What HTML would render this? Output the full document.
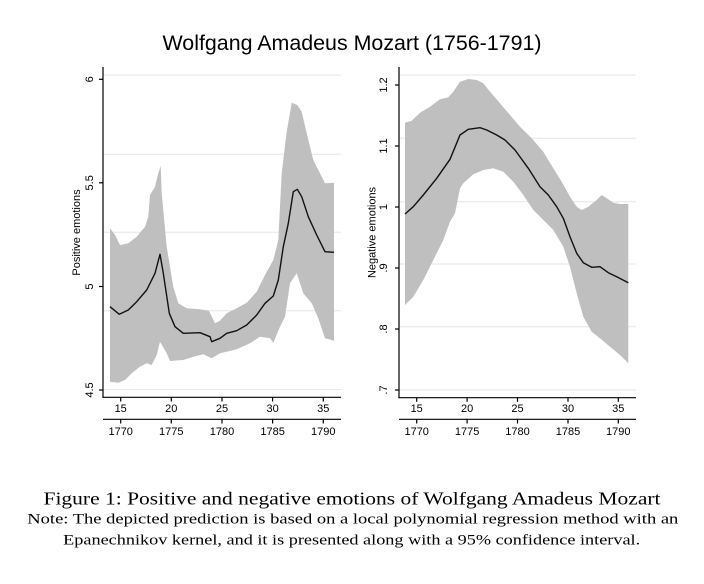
<!DOCTYPE html>
<html>
<head>
<meta charset="utf-8">
<style>
html,body{margin:0;padding:0;background:#fff;}
svg{display:block;}
text{font-family:"Liberation Sans",Arial,sans-serif;fill:#000;}
.serif{font-family:"Liberation Serif","Times New Roman",serif;}
</style>
</head>
<body>
<svg width="704" height="584" viewBox="0 0 704 584" xmlns="http://www.w3.org/2000/svg">
<rect width="704" height="584" fill="#fff"/>

<!-- Title -->
<text x="352" y="50" font-size="21" text-anchor="middle" textLength="379" lengthAdjust="spacingAndGlyphs">Wolfgang Amadeus Mozart (1756-1791)</text>

<!-- LEFT PANEL -->
<g stroke="#e6e6e6" stroke-width="1">
<line x1="103" y1="75" x2="341" y2="75"/>
<line x1="103" y1="154.3" x2="341" y2="154.3"/>
<line x1="103" y1="232.3" x2="341" y2="232.3"/>
<line x1="103" y1="310.7" x2="341" y2="310.7"/>
<line x1="103" y1="389.5" x2="341" y2="389.5"/>
</g>
<polygon fill="#bfbfbf" points="110,228.3 115,235 120,245 128.3,243.3 136.7,236.7 145,226.7 148.3,216.7 150,195 155,186.7 158.3,173.3 160.7,166 161.7,193.3 166.7,246.7 173.3,286.7 178.3,303.3 186.7,308.3 200,309.3 209,310.7 215,323.3 220,320.7 226.7,313.3 236.7,308.3 246.7,302.7 256.7,291.7 265,275 273.3,260 278.3,240 281.7,173.3 286.7,131.7 291.7,102.7 297.3,105 301.7,111.7 306.7,133.3 313.3,160 320,173.3 325,183.3 334,182.7 334,341 331.7,340 325,338.3 318.3,318.3 311.7,303.3 303.3,293.3 296.7,273.3 290,283.3 285,316.7 280,326.7 273.3,342.7 270,338.3 260,336.7 250,343.3 236.7,349.3 226.7,351.7 220,353.3 211.7,358.3 203.3,354.3 193.3,356.7 183.3,360 170,361 166.7,353.3 160,341.7 156.7,355 151.7,365 146.7,363.3 140,366.7 131.7,373.3 125,380 118.3,382.7 110,381.7"/>
<polyline fill="none" stroke="#111" stroke-width="1.4" stroke-linejoin="round" points="110,306.7 119.3,314.3 128.3,310 136.7,301.7 146.7,290 155,273.3 160,254.3 163.3,273.3 169.3,313.3 175,326.7 183.3,333.3 200,332.7 210,336.7 211.7,341.7 220,338.3 226.7,333.3 236.7,330.7 246.7,325 256.7,315 265,303.3 273.3,296 278.3,280 283.3,246.7 288.3,223.3 293.3,191.7 297.3,189.3 301.7,196.7 308.3,216.7 316.7,235 325,251.7 334,252.3"/>
<!-- axes -->
<g stroke="#000" stroke-width="1.2" fill="none">
<line x1="103" y1="67" x2="103" y2="397.5"/>
<line x1="102.4" y1="397.3" x2="341" y2="397.3"/>
<line x1="103" y1="419.3" x2="341" y2="419.3"/>
<line x1="99" y1="79.3" x2="103" y2="79.3"/>
<line x1="99" y1="182.8" x2="103" y2="182.8"/>
<line x1="99" y1="286.5" x2="103" y2="286.5"/>
<line x1="99" y1="390" x2="103" y2="390"/>
<line x1="120.7" y1="397.3" x2="120.7" y2="401.5"/>
<line x1="171.3" y1="397.3" x2="171.3" y2="401.5"/>
<line x1="222" y1="397.3" x2="222" y2="401.5"/>
<line x1="272.6" y1="397.3" x2="272.6" y2="401.5"/>
<line x1="323.3" y1="397.3" x2="323.3" y2="401.5"/>
<line x1="120.7" y1="419.3" x2="120.7" y2="423.5"/>
<line x1="171.3" y1="419.3" x2="171.3" y2="423.5"/>
<line x1="222" y1="419.3" x2="222" y2="423.5"/>
<line x1="272.6" y1="419.3" x2="272.6" y2="423.5"/>
<line x1="323.3" y1="419.3" x2="323.3" y2="423.5"/>
</g>
<g font-size="11" text-anchor="middle">
<text transform="translate(93,79.3) rotate(-90)">6</text>
<text transform="translate(93,182.8) rotate(-90)">5.5</text>
<text transform="translate(93,286.5) rotate(-90)">5</text>
<text transform="translate(93,390) rotate(-90)">4.5</text>
<text transform="translate(80,232.5) rotate(-90)">Positive emotions</text>
<text x="120.7" y="412">15</text>
<text x="171.3" y="412">20</text>
<text x="222" y="412">25</text>
<text x="272.6" y="412">30</text>
<text x="323.3" y="412">35</text>
<text x="120.7" y="435">1770</text>
<text x="171.3" y="435">1775</text>
<text x="222" y="435">1780</text>
<text x="272.6" y="435">1785</text>
<text x="323.3" y="435">1790</text>
</g>

<!-- RIGHT PANEL -->
<g stroke="#e6e6e6" stroke-width="1">
<line x1="399" y1="75" x2="636" y2="75"/>
<line x1="399" y1="138.3" x2="636" y2="138.3"/>
<line x1="399" y1="201.7" x2="636" y2="201.7"/>
<line x1="399" y1="264" x2="636" y2="264"/>
<line x1="399" y1="326.7" x2="636" y2="326.7"/>
<line x1="399" y1="390" x2="636" y2="390"/>
</g>
<polygon fill="#bfbfbf" points="405,122.7 411.7,120.7 420,112.7 430,106.7 440,99.3 448.3,97.3 453.3,91.7 460,81.7 468.3,79 476.7,80 483.3,83.3 490,91.7 500,103.3 510,115 520,126.7 531.7,138.3 543.3,151.7 553.3,168.3 561.7,181.7 570,196.7 576.7,206.7 581.7,210 588.3,206.7 596.7,200 601.7,195 606.7,198.3 613.3,202.7 620,204 628.3,204 628.3,363.3 620,355 610,346.7 600,338.3 591.7,331.7 583.3,316.7 576.7,293.3 570,266.7 563.3,246.7 553.3,230 543.3,220 533.3,210 523.3,195 513.3,181.7 503.3,171.7 493.3,168.3 483.3,170 473.3,174.3 463.3,183.3 460,188.3 455,213.3 450,221.7 443.3,240 433.3,260 423.3,280 413.3,296.7 405,305"/>
<polyline fill="none" stroke="#111" stroke-width="1.4" stroke-linejoin="round" points="405,214 413.3,206.7 423.3,195 436.7,178.3 450,159.3 460,135 468.3,129.3 480,127.7 486.7,130 496.7,135 505,140 515,150 528.3,168.3 540,186.7 548.3,195 556.7,206.7 563.3,218.3 570,236.7 576.7,253.3 583.3,262.7 591.7,267.3 600,266.7 608.3,272.7 616.7,276.7 628.3,282.7"/>
<g stroke="#000" stroke-width="1.2" fill="none">
<line x1="399" y1="67" x2="399" y2="398"/>
<line x1="398.4" y1="397.7" x2="636" y2="397.7"/>
<line x1="399" y1="419.3" x2="636" y2="419.3"/>
<line x1="395" y1="85" x2="399" y2="85"/>
<line x1="395" y1="146" x2="399" y2="146"/>
<line x1="395" y1="207" x2="399" y2="207"/>
<line x1="395" y1="268" x2="399" y2="268"/>
<line x1="395" y1="329" x2="399" y2="329"/>
<line x1="395" y1="390" x2="399" y2="390"/>
<line x1="416.7" y1="397.7" x2="416.7" y2="401.8"/>
<line x1="467.1" y1="397.7" x2="467.1" y2="401.8"/>
<line x1="517.5" y1="397.7" x2="517.5" y2="401.8"/>
<line x1="568" y1="397.7" x2="568" y2="401.8"/>
<line x1="618.3" y1="397.7" x2="618.3" y2="401.8"/>
<line x1="416.7" y1="419.3" x2="416.7" y2="423.5"/>
<line x1="467.1" y1="419.3" x2="467.1" y2="423.5"/>
<line x1="517.5" y1="419.3" x2="517.5" y2="423.5"/>
<line x1="568" y1="419.3" x2="568" y2="423.5"/>
<line x1="618.3" y1="419.3" x2="618.3" y2="423.5"/>
</g>
<g font-size="11" text-anchor="middle">
<text transform="translate(387,85) rotate(-90)">1.2</text>
<text transform="translate(387,146) rotate(-90)">1.1</text>
<text transform="translate(387,207) rotate(-90)">1</text>
<text transform="translate(387,268) rotate(-90)">.9</text>
<text transform="translate(387,329) rotate(-90)">.8</text>
<text transform="translate(387,390) rotate(-90)">.7</text>
<text transform="translate(375.5,232.5) rotate(-90)">Negative emotions</text>
<text x="416.7" y="412">15</text>
<text x="467.1" y="412">20</text>
<text x="517.5" y="412">25</text>
<text x="568" y="412">30</text>
<text x="618.3" y="412">35</text>
<text x="416.7" y="435">1770</text>
<text x="467.1" y="435">1775</text>
<text x="517.5" y="435">1780</text>
<text x="568" y="435">1785</text>
<text x="618.3" y="435">1790</text>
</g>

<!-- Caption -->
<text class="serif" x="352" y="504.7" font-size="18" text-anchor="middle" textLength="617" lengthAdjust="spacingAndGlyphs">Figure 1: Positive and negative emotions of Wolfgang Amadeus Mozart</text>
<text class="serif" x="352.8" y="523.7" font-size="14.5" text-anchor="middle" textLength="651" lengthAdjust="spacingAndGlyphs">Note: The depicted prediction is based on a local polynomial regression method with an</text>
<text class="serif" x="351.7" y="544.5" font-size="14.5" text-anchor="middle" textLength="577" lengthAdjust="spacingAndGlyphs">Epanechnikov kernel, and it is presented along with a 95% confidence interval.</text>
</svg>
</body>
</html>
